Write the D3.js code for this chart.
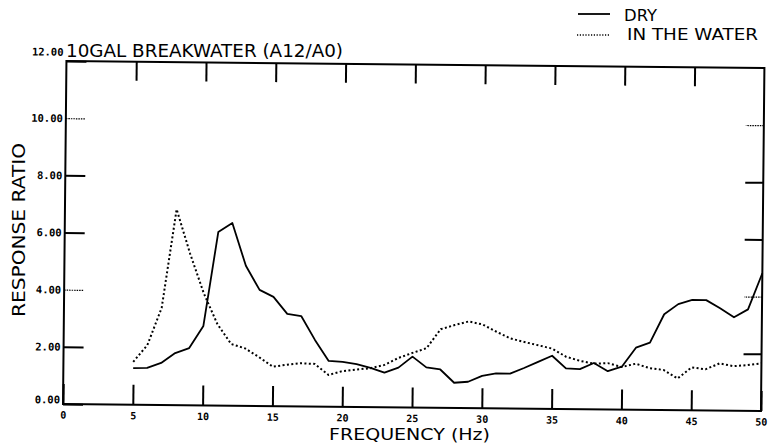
<!DOCTYPE html>
<html><head><meta charset="utf-8">
<script src="https://cdn.jsdelivr.net/npm/d3@7/dist/d3.min.js"></script>
<style>html,body{margin:0;padding:0;background:#fff;} svg{display:block;}</style>
</head><body>
<svg id="chart" width="769" height="447"></svg>
<script>
// ---- data ----
const frequencies = [5,6,7,8,9,10,11,12,13,14,15,16,17,18,19,20,21,22,23,24,25,26,27,28,29,30,31,32,33,34,35,36,37,38,39,40,41,42,43,44,45,46,47,48,49,50];
const dry = [1.28,1.29,1.47,1.82,2.00,2.78,6.07,6.39,4.90,4.06,3.82,3.23,3.16,2.33,1.60,1.57,1.50,1.37,1.21,1.39,1.78,1.41,1.34,0.88,0.92,1.13,1.22,1.22,1.42,1.64,1.86,1.42,1.40,1.62,1.34,1.50,2.17,2.35,3.35,3.71,3.86,3.86,3.58,3.27,3.55,4.82];
const inWater = [1.50,2.09,3.40,6.85,5.30,3.93,2.85,2.16,2.01,1.71,1.38,1.45,1.51,1.49,1.11,1.25,1.31,1.36,1.48,1.73,1.91,2.08,2.75,2.90,3.03,2.93,2.68,2.45,2.33,2.22,2.11,1.83,1.69,1.60,1.62,1.49,1.61,1.46,1.40,1.11,1.50,1.44,1.65,1.56,1.60,1.67];
const xTickValues = [0,5,10,15,20,25,30,35,40,45,50];
const yTickValues = [0,2,4,6,8,10,12];
const yTickLabels = ["0.00","2.00","4.00","6.00","8.00","10.00","12.00"];
const seriesNames = ["DRY","IN THE WATER"];
const titleText = "10GAL BREAKWATER (A12/A0)";
const xTitle = "FREQUENCY (Hz)";
const yTitle = "RESPONSE RATIO";

// ---- layout ----
const svg = d3.select("#chart");
const L = 63, R = 761, T = 61, B = 404;
const x = d3.scaleLinear().domain([0, 50]).range([L, R]);
const y = d3.scaleLinear().domain([0, 12]).range([B, T]);
const tickFont = "'DejaVu Sans Mono', monospace";
const textFont = "'DejaVu Sans', sans-serif";

svg.append("rect").attr("width", 769).attr("height", 447).attr("fill", "#fff");

// scanned page is slightly rotated
const g = svg.append("g").attr("transform", `rotate(0.575,${L},${B})`);

function styleAxis(sel) {
  sel.select(".domain").remove();
  sel.selectAll(".tick line").attr("stroke", "#000").attr("stroke-width", 2);
  sel.selectAll(".tick text").attr("fill", "#000")
    .attr("font-family", tickFont).attr("font-weight", "bold").attr("font-size", 10);
}
const thin = d => d === 4 || d === 10;

// bottom axis
const gx = g.append("g").attr("transform", `translate(0,${B})`)
  .call(d3.axisBottom(x).tickValues(xTickValues).tickSizeInner(-20).tickSizeOuter(0).tickPadding(7.5).tickFormat(d3.format("d")));
styleAxis(gx);
// top axis
const gt = g.append("g").attr("transform", `translate(0,${T})`)
  .call(d3.axisTop(x).tickValues(xTickValues.slice(1, -1)).tickSizeInner(-19).tickSizeOuter(0).tickFormat(""));
styleAxis(gt);
// left axis
const gy = g.append("g").attr("transform", `translate(${L},0)`)
  .call(d3.axisLeft(y).tickValues(yTickValues).tickSizeInner(-20).tickSizeOuter(0).tickPadding(3)
    .tickFormat((d, i) => yTickLabels[i]));
styleAxis(gy);
gy.selectAll(".tick text").attr("dy", d => d === 12 ? "-0.55em" : d === 0 ? "-0.1em" : "0.32em")
  .attr("font-size", 10.5);
gy.selectAll(".tick line").filter(thin).attr("stroke-width", 1.2).attr("stroke-dasharray", "1.5,1");
// right axis
const gr = g.append("g").attr("transform", `translate(${R},0)`)
  .call(d3.axisRight(y).tickValues(yTickValues.slice(1, -1)).tickSizeInner(-18).tickSizeOuter(0).tickFormat(""));
styleAxis(gr);
gr.selectAll(".tick line").filter(thin).attr("stroke-width", 1.2).attr("stroke-dasharray", "1.5,1");

// frame
g.append("rect").attr("x", L).attr("y", T).attr("width", R - L).attr("height", B - T)
  .attr("fill", "none").attr("stroke", "#000").attr("stroke-width", 2);

// curves
const line = d3.line().x((d, i) => x(frequencies[i])).y(d => y(d));
g.append("path").datum(dry).attr("d", line).attr("fill", "none")
  .attr("stroke", "#000").attr("stroke-width", 1.8).attr("stroke-linejoin", "round");
g.append("path").datum(inWater).attr("d", line).attr("fill", "none")
  .attr("stroke", "#000").attr("stroke-width", 2).attr("stroke-dasharray", "2,2.4");

// title
svg.append("text").attr("x", 66).attr("y", 57).text(titleText)
  .attr("font-family", textFont).attr("font-size", 18).attr("textLength", 277)
  .attr("lengthAdjust", "spacingAndGlyphs").attr("fill", "#000");

// legend
const legend = svg.append("g");
legend.append("line").attr("x1", 578).attr("x2", 610).attr("y1", 14).attr("y2", 14)
  .attr("stroke", "#000").attr("stroke-width", 1.8);
legend.append("line").attr("x1", 577).attr("x2", 610).attr("y1", 35).attr("y2", 35)
  .attr("stroke", "#000").attr("stroke-width", 1.6).attr("stroke-dasharray", "1.2,1.6");
legend.append("text").attr("x", 624).attr("y", 21).text(seriesNames[0])
  .attr("font-family", textFont).attr("font-size", 15).attr("textLength", 33)
  .attr("lengthAdjust", "spacingAndGlyphs");
legend.append("text").attr("x", 627).attr("y", 40).text(seriesNames[1])
  .attr("font-family", textFont).attr("font-size", 15).attr("textLength", 131)
  .attr("lengthAdjust", "spacingAndGlyphs");

// axis titles
svg.append("text").attr("x", 409.5).attr("y", 440).attr("text-anchor", "middle").text(xTitle)
  .attr("font-family", textFont).attr("font-size", 16).attr("textLength", 161)
  .attr("lengthAdjust", "spacingAndGlyphs");
svg.append("text").attr("transform", "translate(25,230) rotate(-90)").attr("text-anchor", "middle")
  .text(yTitle).attr("font-family", textFont).attr("font-size", 17).attr("textLength", 174)
  .attr("lengthAdjust", "spacingAndGlyphs");
</script>
</body></html>
